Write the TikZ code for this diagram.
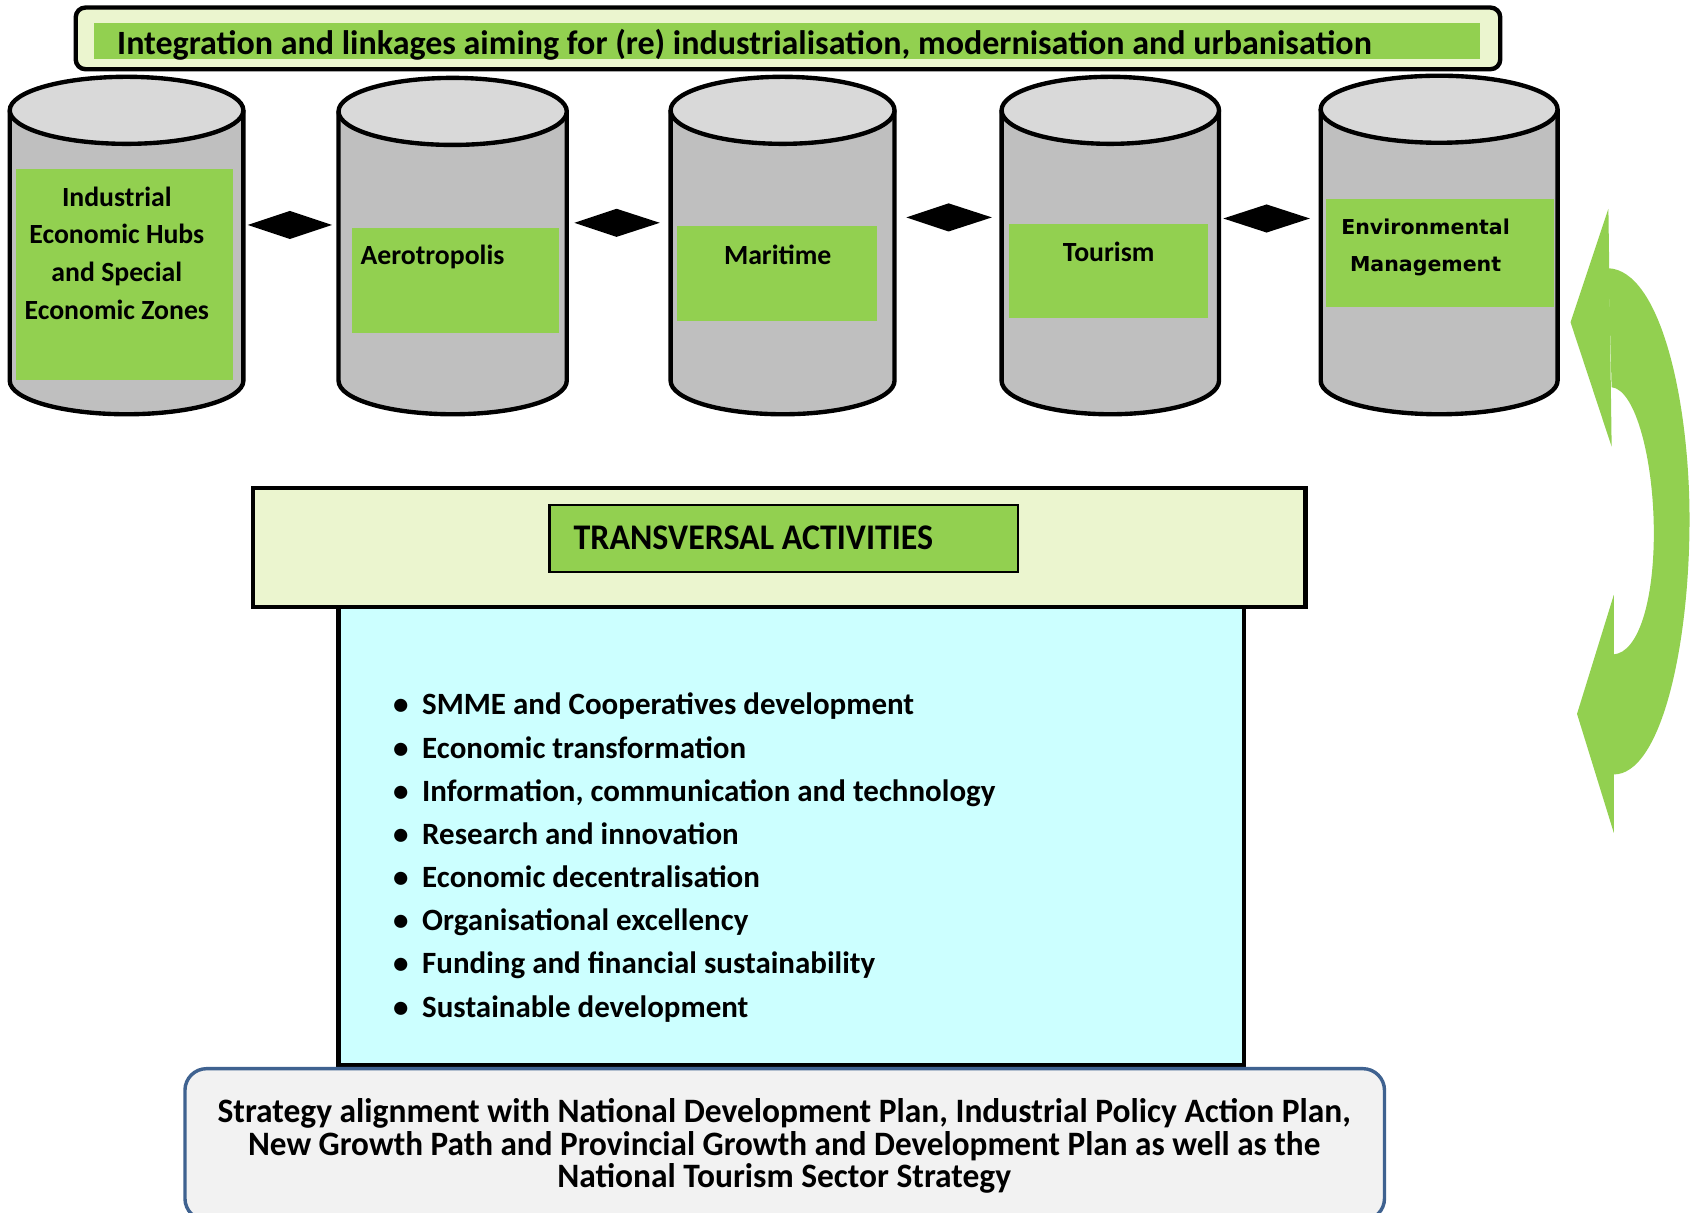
\documentclass[tikz,border=0pt]{standalone}
\usepackage{fontspec}
\setmainfont{Carlito}
\newfontfamily\vfont{DejaVu Sans}
\usepackage{graphicx}
\definecolor{bannerbg}{HTML}{EBF5CF}
\definecolor{lgreen}{HTML}{92D050}
\definecolor{cylbody}{HTML}{BFBFBF}
\definecolor{cyltop}{HTML}{D9D9D9}
\definecolor{cyanbg}{HTML}{CCFFFF}
\definecolor{botbg}{HTML}{F2F2F2}
\definecolor{botline}{HTML}{3F6290}
\newcommand\cylcalc[4]{%
  \pgfmathsetmacro\cylcx{(#1+#2)/2}%
  \pgfmathsetmacro\cylrx{(#2-#1)/2*0.02}%
  \pgfmathsetmacro\cylyt{#3+31}%
  \pgfmathsetmacro\cylyb{#4-31}%
}
\newcommand\cylbodyfill[5]{% name, L, R, top, bottom
  \cylcalc{#2}{#3}{#4}{#5}%
  \coordinate (#1) at (\cylcx,{(\cylyt+\cylyb)/2});%
  \fill[cylbody] (#2,\cylyt) -- (#2,\cylyb) arc[start angle=180,end angle=360,x radius=\cylrx cm,y radius=0.62cm] -- (#3,\cylyt) -- cycle;%
}
\newcommand\cyloutline[4]{% L, R, top, bottom
  \cylcalc{#1}{#2}{#3}{#4}%
  \draw[cylline] (#1,\cylyt) -- (#1,\cylyb) arc[start angle=180,end angle=360,x radius=\cylrx cm,y radius=0.62cm] -- (#2,\cylyt);%
  \draw[cylline,fill=cyltop] (\cylcx,\cylyt) ellipse[x radius=\cylrx cm,y radius=0.62cm];%
}
\begin{document}
\begin{tikzpicture}[x=0.02cm,y=-0.02cm,
  cylline/.style={line width=2.3pt,draw=black},
  txt/.style={inner sep=0pt,font=\bfseries\fontsize{14.6pt}{19.9pt}\selectfont},
  envtxt/.style={inner sep=0pt,font=\vfont\bfseries\fontsize{10.8pt}{19.4pt}\selectfont,align=center},
  bullettxt/.style={inner sep=0pt,anchor=base west,font=\bfseries\fontsize{16.3pt}{18pt}\selectfont},
  linkdiamond/.style={fill=black}]
\clip (0,0) rectangle (1568,1121);
\fill[white] (0,0) rectangle (1568,1121);
% banner
\draw[line width=2.3pt,fill=bannerbg,rounded corners=0.18cm] (70,7) rectangle (1387,64);
\fill[lgreen] (87,21) rectangle (1368,55);
\node[txt,anchor=base west,font=\bfseries\fontsize{17.9pt}{20pt}\selectfont] (banner) at (108,50) {Integration and linkages aiming for (re) industrialisation, modernisation and urbanisation};
% cylinders
\cylbodyfill{c1}{9}{225}{71}{383}
\cylbodyfill{c2}{313}{524}{72}{383}
\cylbodyfill{c3}{620}{827}{71}{383}
\cylbodyfill{c4}{926}{1127}{71}{383}
\cylbodyfill{c5}{1221}{1440}{70}{383}
\fill[lgreen] (15,156) rectangle (215,351);
\fill[lgreen] (325,211) rectangle (517,308);
\fill[lgreen] (626,209) rectangle (811,297);
\fill[lgreen] (933,207) rectangle (1117,294);
\fill[lgreen] (1226,184) rectangle (1437,284);
\cyloutline{9}{225}{71}{383}
\cyloutline{313}{524}{72}{383}
\cyloutline{620}{827}{71}{383}
\cyloutline{926}{1127}{71}{383}
\cyloutline{1221}{1440}{70}{383}
\node[txt,align=center] (t1) at (108,234) {Industrial\\Economic Hubs\\and Special\\Economic Zones};
\node[txt,anchor=west] (t2) at (333,238) {Aerotropolis};
\node[txt] (t3) at (719,236) {Maritime};
\node[txt] (t4) at (1025,233) {Tourism};
\node[envtxt] (t5) at (1318,228.5) {Environmental\\Management};
% diamonds between cylinders
\fill[linkdiamond] (229,208) -- (268,195) -- (307,208) -- (268,221) -- cycle;
\fill[linkdiamond] (531,206) -- (570,193) -- (610,206) -- (570,219) -- cycle;
\fill[linkdiamond] (838,201) -- (877,188) -- (917,201) -- (877,214) -- cycle;
\fill[linkdiamond] (1131,202) -- (1171,189) -- (1211,202) -- (1171,215) -- cycle;
% green curved double arrow
\fill[lgreen] (1487,193) -- (1452,298) -- (1490,413) -- cycle;
\fill[lgreen] (1487,248) .. controls (1535,250) and (1562,370) .. (1562,480) .. controls (1562,600) and (1535,716) .. (1492,716) -- (1492,605) .. controls (1515,603) and (1529,555) .. (1529,493) .. controls (1529,425) and (1512,360) .. (1490,358) -- cycle;
\fill[lgreen] (1492,550) -- (1458,660) -- (1492,770) -- cycle;
% transversal
\draw[line width=2.3pt,fill=bannerbg] (234,451) rectangle (1207,561);
\draw[line width=1.1pt,fill=lgreen] (508,467) rectangle (941,529);
\node[inner sep=0pt,anchor=west,font=\bfseries\fontsize{19pt}{22pt}\selectfont] (trans) at (530,497) {\scalebox{0.94}[1]{TRANSVERSAL ACTIVITIES}};
\draw[line width=2.3pt,fill=cyanbg] (313,561) rectangle (1150,985);
\foreach \t [count=\i] in {SMME and Cooperatives development,Economic transformation,{Information, communication and technology},Research and innovation,Economic decentralisation,Organisational excellency,Funding and financial sustainability,Sustainable development}{
  \pgfmathsetmacro\yy{661+(\i-1)*39.9}
  \node[bullettxt] (b\i) at (363,\yy) {\makebox[0.54cm][l]{\textbullet}\t};
}
% bottom box
\draw[line width=1.8pt,draw=botline,fill=botbg,rounded corners=0.4cm] (171,988) rectangle (1280,1128);
\node[inner sep=0pt,align=center,font=\bfseries\fontsize{18pt}{17.1pt}\selectfont] (bottom) at (725,1059.5) {\scalebox{0.978}[1]{Strategy alignment with National Development Plan, Industrial Policy Action Plan,}\\\scalebox{0.97}[1]{New Growth Path and Provincial Growth and Development Plan as well as the}\\\scalebox{0.978}[1]{National Tourism Sector Strategy}};
\end{tikzpicture}
\end{document}
